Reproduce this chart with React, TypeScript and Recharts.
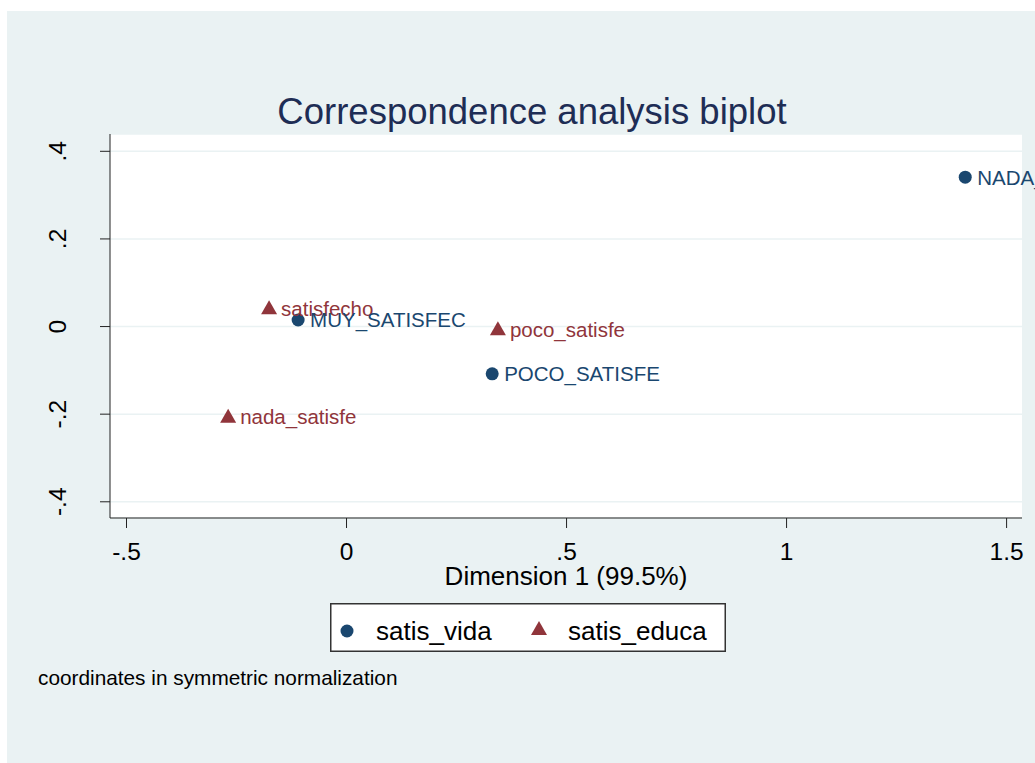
import {
  ScatterChart,
  Scatter,
  XAxis,
  YAxis,
  CartesianGrid,
  LabelList,
  Legend
} from 'recharts';

// category points (dimension 1, dimension 2)
const vidaLabels = ['MUY_SATISFEC', 'POCO_SATISFE', 'NADA_SATISFE'];
const vidaDim1 = [-0.11, 0.331, 1.406];
const vidaDim2 = [0.015, -0.108, 0.341];

const educaLabels = ['satisfecho', 'poco_satisfe', 'nada_satisfe'];
const educaDim1 = [-0.176, 0.344, -0.269];
const educaDim2 = [0.042, -0.006, -0.206];

const xTicks = [-0.5, 0, 0.5, 1, 1.5];
const xTickLabels = ['-.5', '0', '.5', '1', '1.5'];
const yTicks = [-0.4, -0.2, 0, 0.2, 0.4];
const yTickLabels = ['-.4', '-.2', '0', '.2', '.4'];

const vidaData = vidaLabels.map((label, i) => ({ label, x: vidaDim1[i], y: vidaDim2[i] }));
const educaData = educaLabels.map((label, i) => ({ label, x: educaDim1[i], y: educaDim2[i] }));

const BLUE = '#1A476F';
const RED = '#90353B';
const BG = '#EAF2F3';
const FONT = '"Liberation Sans", Arial, sans-serif';

const Circle = (props: any) => <circle cx={props.cx} cy={props.cy} r={6.5} fill={BLUE} />;

const Triangle = (props: any) => {
  const { cx, cy } = props;
  return <polygon points={`${cx - 8},${cy + 6} ${cx + 8},${cy + 6} ${cx},${cy - 8}`} fill={RED} />;
};

const pointLabel = (color: string) => (props: any) => {
  const { x, y, width, height, value } = props;
  const cx = x + width / 2;
  const cy = y + height / 2;
  return (
    <text x={cx + 12} y={cy + 7.5} fill={color} fontSize={20.5} fontFamily={FONT}>
      {value}
    </text>
  );
};

const fmt = (ticks: number[], labels: string[]) => (v: number) => {
  const i = ticks.findIndex((t) => Math.abs(t - v) < 1e-9);
  return i >= 0 ? labels[i] : String(v);
};

const XTick = (props: any) => {
  const { x, y, payload } = props;
  return (
    <text x={x} y={y + 30} textAnchor="middle" fill="#000" fontSize={24.5} fontFamily={FONT}>
      {fmt(xTicks, xTickLabels)(payload.value)}
    </text>
  );
};

const YTick = (props: any) => {
  const { x, y, payload } = props;
  const tx = x - 32;
  return (
    <text
      x={tx}
      y={y}
      transform={`rotate(-90, ${tx}, ${y})`}
      textAnchor="middle"
      fill="#000"
      fontSize={24.5}
      fontFamily={FONT}
    >
      {fmt(yTicks, yTickLabels)(payload.value)}
    </text>
  );
};

const LegendBox = () => (
  <svg width={396} height={49} style={{ display: 'block' }}>
    <rect x={0.75} y={0.75} width={394.5} height={47.5} fill="#fff" stroke="#333" strokeWidth={1.5} />
    <circle cx={17} cy={28} r={6.5} fill={BLUE} />
    <text x={46} y={37} fontSize={26} fontFamily={FONT} fill="#000">satis_vida</text>
    <polygon points="201,32 217,32 209,18" fill={RED} />
    <text x={238} y={37} fontSize={26} fontFamily={FONT} fill="#000">satis_educa</text>
  </svg>
);

const App = () => {
  return (
    <div style={{ position: 'absolute', left: 0, top: 0, width: 1035, height: 763, background: '#fff', overflow: 'hidden' }}>
      <div style={{ position: 'absolute', left: 7, top: 11, width: 1028, height: 752, background: BG }} />
      <div style={{ position: 'absolute', left: 0, top: 0 }}>
        <ScatterChart width={1035} height={763} margin={{ top: 134, right: 13, left: 50, bottom: 178 }}>
          <CartesianGrid vertical={false} stroke={BG} strokeWidth={1.5} fill="#fff" />
          <XAxis
            type="number"
            dataKey="x"
            domain={[-0.5375, 1.535]}
            ticks={xTicks}
            allowDataOverflow
            height={67}
            tickSize={10}
            stroke="#222"
            tick={<XTick />}
            label={{ value: 'Dimension 1 (99.5%)', position: 'insideBottom', offset: 0, fill: '#000', fontSize: 26, fontFamily: FONT }}
          />
          <YAxis
            type="number"
            dataKey="y"
            domain={[-0.437, 0.4395]}
            ticks={yTicks}
            allowDataOverflow
            width={60}
            tickSize={10}
            stroke="#222"
            tick={<YTick />}
          />
          <Legend
            layout="horizontal"
            verticalAlign="middle"
            align="center"
            content={() => <LegendBox />}
            wrapperStyle={{ left: 330, top: 603, width: 396, height: 49 }}
          />
          <Scatter name="satis_educa" data={educaData} fill={RED} shape={Triangle} isAnimationActive={false}>
            <LabelList dataKey="label" content={pointLabel(RED)} />
          </Scatter>
          <Scatter name="satis_vida" data={vidaData} fill={BLUE} shape={Circle} isAnimationActive={false}>
            <LabelList dataKey="label" content={pointLabel(BLUE)} />
          </Scatter>
        </ScatterChart>
      </div>
      <svg width={1035} height={763} style={{ position: 'absolute', left: 0, top: 0, pointerEvents: 'none' }}>
        <text x={532} y={124} textAnchor="middle" fill="#1E2D55" fontSize={36.5} fontFamily={FONT}>
          Correspondence analysis biplot
        </text>
        <text x={38} y={685} fill="#000" fontSize={20.8} fontFamily={FONT}>
          coordinates in symmetric normalization
        </text>
      </svg>
    </div>
  );
};

export default App;
